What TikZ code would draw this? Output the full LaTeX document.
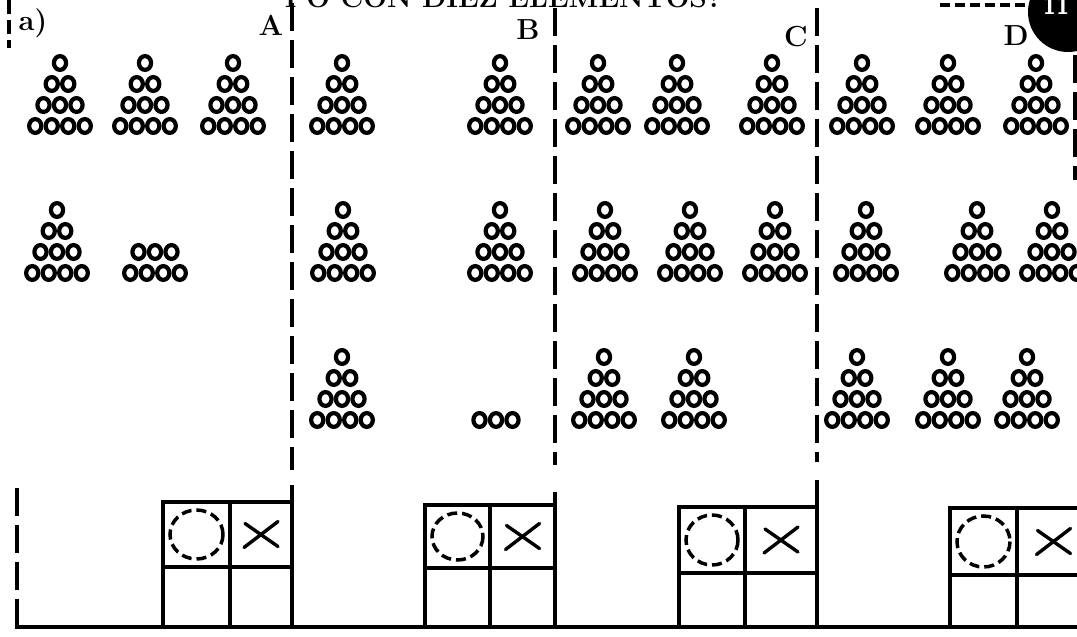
\documentclass[tikz,border=0pt]{standalone}
\usepackage{fontspec}
\begin{document}
\begin{tikzpicture}[x=1pt,y=-1pt,
  bead/.style={line width=4.2pt},
  rulel/.style={line width=3.6pt},
  dashrule/.style={line width=3.8pt, dash pattern=on 28pt off 9pt},
  lbl/.style={font=\fontsize{29}{31}\selectfont\bfseries, inner sep=0pt},
  pics/tri/.style={code={
    \foreach \r/\n in {0/4,1/3,2/2,3/1}{
      \foreach \i in {1,...,\n}{
        \draw[bead] ({(\i-(\n+1)/2)*16.5},{-\r*21}) ellipse [x radius=6.1, y radius=6.9];
      }}}},
  pics/seven/.style={code={
    \foreach \r/\n in {0/4,1/3}{
      \foreach \i in {1,...,\n}{
        \draw[bead] ({(\i-(\n+1)/2)*16.5},{-\r*21}) ellipse [x radius=6.1, y radius=6.9];
      }}}},
  pics/three/.style={code={
      \foreach \i in {1,2,3}{
        \draw[bead] ({(\i-2)*16.5},0) ellipse [x radius=6.1, y radius=6.9];
      }}},
]
\useasboundingbox (0,0) rectangle (1077,637);
\fill[white] (0,0) rectangle (1077,637);
\clip (0,0) rectangle (1077,637);

% title (cut by the top edge, as in the reference)
\node[anchor=base east, inner sep=0pt, font=\fontsize{28}{30}\selectfont\bfseries] (title) at (722,7) {PO CON DIEZ ELEMENTOS?};

% top right marker
\draw[line width=3.5pt, dash pattern=on 10pt off 5pt] (940,5) -- (1030,5);
\fill[black] (1068,12) circle [radius=40];
\node[text=white, inner sep=0pt, font=\fontsize{24}{26}\selectfont\sffamily\bfseries] (num) at (1056,6) {11};

% labels
\draw[dashrule, dash pattern=on 14pt off 6pt] (9,0) -- (9,48);
\node[lbl] (la) at (33,23) {a)};
\node[lbl] (lA) at (271,25) {A};
\node[lbl] (lB) at (528,30) {B};
\node[lbl] (lC) at (796,37) {C};
\node[lbl] (lD) at (1016,36) {D};

% dividers
\draw[dashrule] (292,3) -- (292,470);
\draw[rulel] (292,485) -- (292,627);
\draw[dashrule] (555,8) -- (555,465);
\draw[rulel] (555,492) -- (555,627);
\draw[dashrule] (817,8) -- (817,462);
\draw[rulel] (817,480) -- (817,627);
\draw[dashrule] (1075,55) -- (1075,180);
\draw[dashrule] (17,488) -- (17,627);
\draw[line width=4pt] (15,627) -- (1077,627);

% row 1
\foreach \x in {60,145,233,342,500,598,677,772,862,948,1036}
  \pic at (\x,126) {tri};
% row 2
\foreach \x in {57,343,500,605,690,775,866,977,1052}
  \pic at (\x,273) {tri};
\pic at (155,273) {seven};
% row 3
\foreach \x in {342,604,694,857,948,1027}
  \pic at (\x,420) {tri};
\pic at (496,420) {three};

% answer boxes
\foreach \l/\c/\r/\t/\m in {163/230/292/502/567, 425/490/555/505/568, 679/745/817/507/573, 950/1017/1090/508/575}{
  \draw[rulel] (\l,\t) rectangle (\r,627);
  \draw[rulel] (\c,\t) -- (\c,627);
  \draw[rulel] (\l,\m) -- (\r,\m);
  \draw[line width=3.5pt, dash pattern=on 10pt off 5pt]
    ({(\l+\c)/2},{(\t+\m)/2}) ellipse [x radius={(\c-\l)/2-7}, y radius={(\m-\t)/2-8}];
  \draw[line width=3.4pt, line cap=round] ({(\c+\r)/2-17},{(\t+\m)/2+13}) -- ({(\c+\r)/2+17},{(\t+\m)/2-13});
  \draw[line width=3.4pt, line cap=round] ({(\c+\r)/2-16},{(\t+\m)/2-11}) -- ({(\c+\r)/2+17},{(\t+\m)/2+12});
}
\end{tikzpicture}
\end{document}
